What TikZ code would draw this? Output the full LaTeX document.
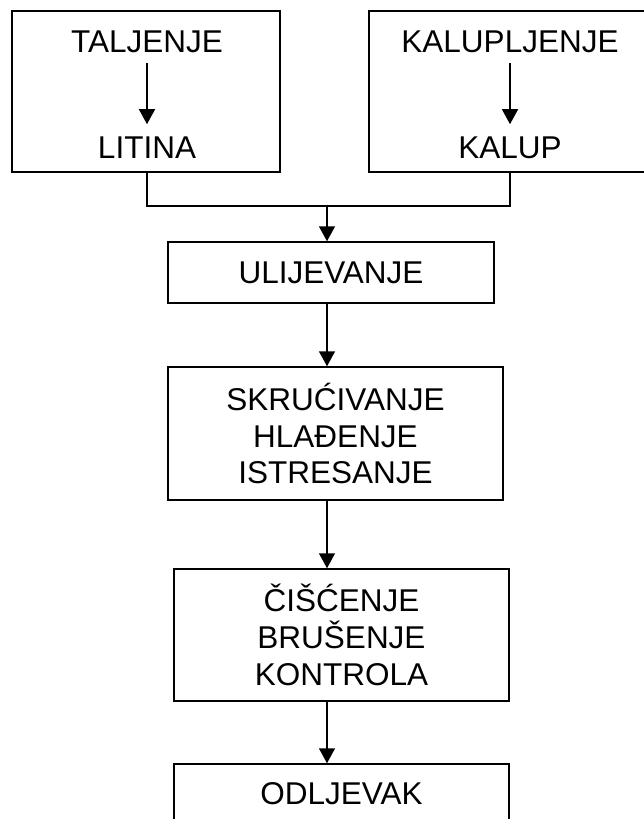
\documentclass[tikz,border=0pt]{standalone}
\usepackage{fontspec}
\setmainfont{Liberation Sans}
\usepackage{tikz}
\usetikzlibrary{positioning}
\usetikzlibrary{arrows.meta}
\newcommand{\stagefont}{\fontsize{31.5}{36.7}\selectfont}

\begin{document}
\begin{tikzpicture}[
							x = 1pt,
							y = -1pt,
							stage/.style = {
								draw,
								rectangle,
								line width = 1.5pt,
								align = center,
								font = \stagefont,
								inner sep = 0pt,
							},
							word/.style = {
								font = \stagefont,
								inner sep = 0pt,
								inner ysep = 11pt,
								text height = 23pt,
								text depth = 0pt,
							},
							flow/.style = {
								line width = 1.5pt,
								-{Triangle[width = 16pt, length = 15pt]},
							},
							rail/.style = {
								line width = 1.5pt,
							}
						]
					\useasboundingbox (0, 0) rectangle (643, 819);

					\node [stage, minimum width = 268pt, minimum height = 161pt] (castBox) at (146, 91.5) {};
					\node [stage, minimum width = 282pt, minimum height = 161pt] (mouldBox) at (510, 91.5) {};

					\node [word] (taljenje) at (147, 40.5) {TALJENJE};
					\node [word, below = 61pt of taljenje] (litina) {LITINA};
					\node [word] (kalupljenje) at (510, 40.5) {KALUPLJENJE};
					\node [word, below = 61pt of kalupljenje] (kalup) {KALUP};

					\node [stage, minimum width = 326pt, minimum height = 61pt] (ulijevanje) at (331, 272.5) {ULIJEVANJE};
					\node [stage, minimum width = 335pt, minimum height = 133pt] (skrucivanje) at (335.5, 433.5) {SKRUĆIVANJE\\HLAĐENJE\\ISTRESANJE};
					\node [stage, minimum width = 335pt, minimum height = 132pt] (ciscenje) at (341.5, 635) {ČIŠĆENJE\\BRUŠENJE\\KONTROLA};
					\node [stage, minimum width = 335pt, minimum height = 59pt] (odljevak) at (341.5, 793.5) {ODLJEVAK};

					\coordinate (merge) at (327, 206);

					\draw [flow] (taljenje) to (litina);
					\draw [flow] (kalupljenje) to (kalup);

					\draw [rail] (castBox.south -| litina) -- (litina |- merge) -- (kalup |- merge) -- (castBox.south -| kalup);
					\draw [flow] (merge) to (merge |- ulijevanje.north);
					\draw [flow] (ulijevanje.south -| merge) to (skrucivanje.north -| merge);
					\draw [flow] (skrucivanje.south -| merge) to (ciscenje.north -| merge);
					\draw [flow] (ciscenje.south -| merge) to (odljevak.north -| merge);
				\end{tikzpicture}
\end{document}
